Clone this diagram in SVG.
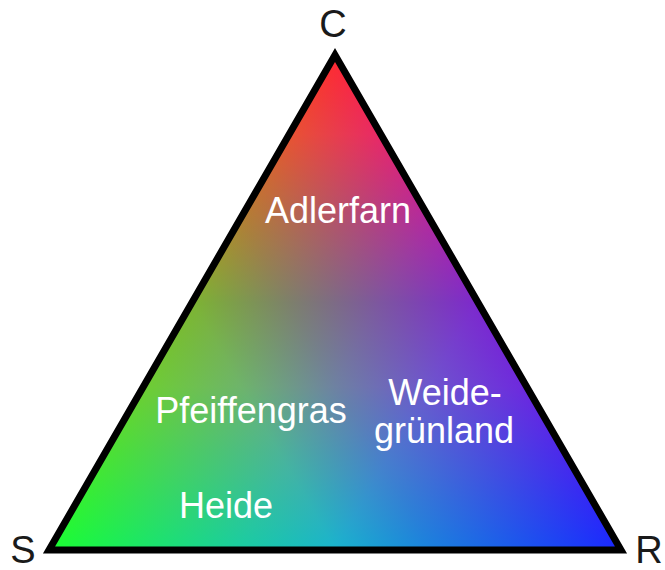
<svg xmlns="http://www.w3.org/2000/svg" width="665" height="570" viewBox="0 0 665 570">
  <style>
    .corner { font-family: "Liberation Sans", Arial, sans-serif; font-size: 38px; fill: #1a1a1a; text-anchor: middle; }
    .lbl { font-family: "Liberation Sans", Arial, sans-serif; font-size: 36px; fill: #ffffff; text-anchor: middle; }
    .layer { mix-blend-mode: screen; }
  </style>
  <defs>
    <linearGradient id="gR" gradientUnits="userSpaceOnUse" x1="335" y1="55" x2="335" y2="550">
      <stop offset="0" stop-color="rgb(255,0,0)"/>
      <stop offset="0.16" stop-color="rgb(232,0,0)"/>
      <stop offset="0.5" stop-color="rgb(125,0,0)"/>
      <stop offset="0.67" stop-color="rgb(110,0,0)"/>
      <stop offset="1" stop-color="rgb(25,0,0)"/>
    </linearGradient>
    <linearGradient id="gG" gradientUnits="userSpaceOnUse" x1="49" y1="550" x2="478" y2="302">
      <stop offset="0" stop-color="rgb(0,255,0)"/>
      <stop offset="0.5" stop-color="rgb(0,180,0)"/>
      <stop offset="0.67" stop-color="rgb(0,128,0)"/>
      <stop offset="1" stop-color="rgb(0,40,0)"/>
    </linearGradient>
    <linearGradient id="gB" gradientUnits="userSpaceOnUse" x1="621" y1="550" x2="192" y2="302">
      <stop offset="0" stop-color="rgb(0,0,255)"/>
      <stop offset="0.5" stop-color="rgb(0,0,205)"/>
      <stop offset="0.67" stop-color="rgb(0,0,160)"/>
      <stop offset="1" stop-color="rgb(0,0,50)"/>
    </linearGradient>
  </defs>
  <rect width="665" height="570" fill="#ffffff"/>
  <g id="triangle">
    <g style="isolation:isolate">
      <polygon points="335,55 49,550 621,550" fill="url(#gR)"/>
      <polygon class="layer" points="335,55 49,550 621,550" fill="url(#gG)"/>
      <polygon class="layer" points="335,55 49,550 621,550" fill="url(#gB)"/>
    </g>
    <polygon points="335,55 49,550 621,550" fill="none" stroke="#000000" stroke-width="7" stroke-linejoin="miter"/>
  </g>
  <g id="corner-C"><text class="corner" x="333" y="37">C</text></g>
  <g id="corner-S"><text class="corner" x="23" y="563">S</text></g>
  <g id="corner-R"><text class="corner" x="649" y="563">R</text></g>
  <g id="adlerfarn"><text class="lbl" x="338" y="223">Adlerfarn</text></g>
  <g id="pfeiffengras"><text class="lbl" x="251" y="423">Pfeiffengras</text></g>
  <g id="weidegruenland"><text class="lbl" x="445" y="405">Weide-</text><text class="lbl" x="444" y="443">grünland</text></g>
  <g id="heide"><text class="lbl" x="226" y="518">Heide</text></g>
  <g id="connectors"/>
</svg>
